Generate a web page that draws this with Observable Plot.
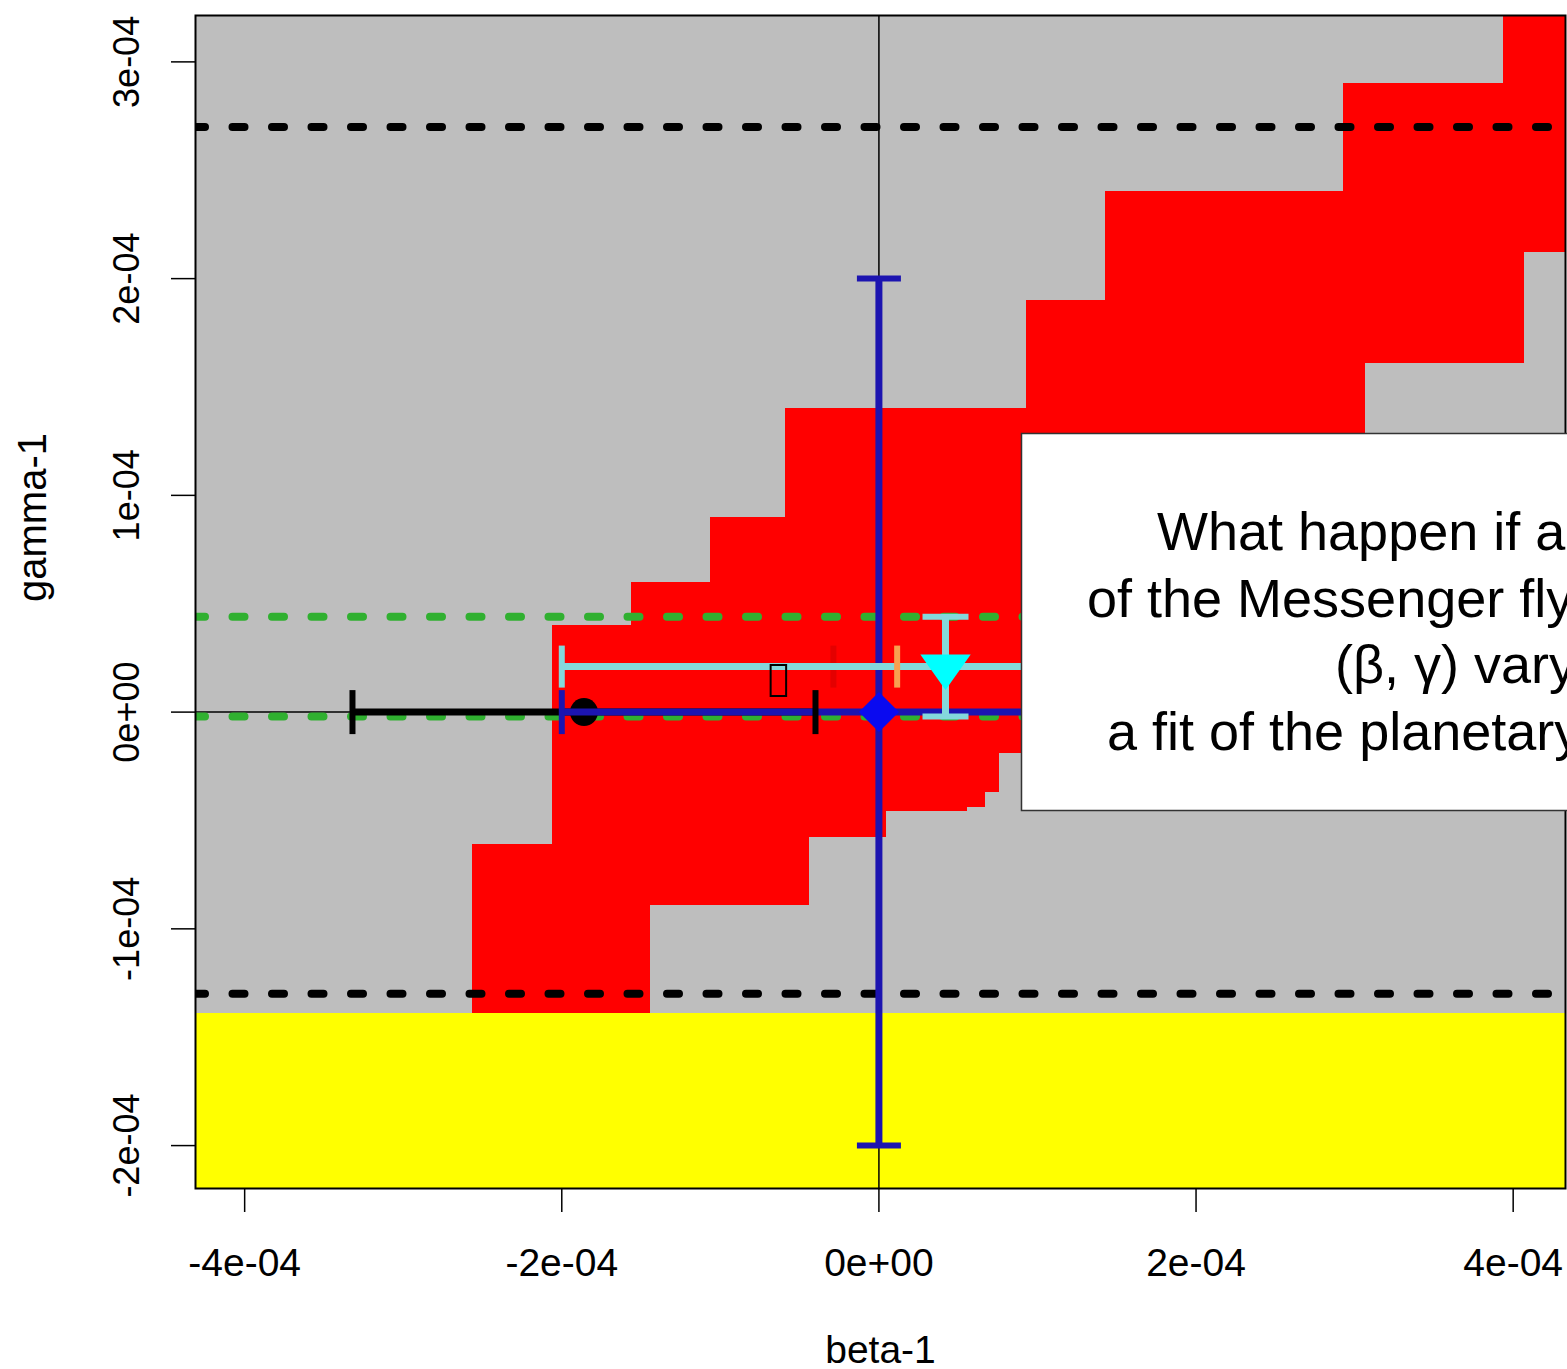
<!DOCTYPE html>
<html>
<head>
<meta charset="utf-8">
<script src="https://cdn.jsdelivr.net/npm/d3@7"></script>
<script src="https://cdn.jsdelivr.net/npm/@observablehq/plot@0.6"></script>
<style>
  html, body { margin: 0; padding: 0; background: #fff; overflow: hidden; }
  #wrap { position: relative; width: 1567px; height: 1369px; overflow: hidden; }
  #note { position: absolute; left: 0; top: 0; pointer-events: none; }
</style>
</head>
<body>
<div id="wrap"></div>
<script>
// ---- axes -------------------------------------------------------------
const xTickValues = [-4e-4, -2e-4, 0, 2e-4, 4e-4];
const xTickLabels = ["-4e-04", "-2e-04", "0e+00", "2e-04", "4e-04"];
const yTickValues = [-2e-4, -1e-4, 0, 1e-4, 2e-4, 3e-4];
const yTickLabels = ["-2e-04", "-1e-04", "0e+00", "1e-04", "2e-04", "3e-04"];
const xDomain = [-4.31e-4, 4.33e-4];
const yDomain = [-2.198e-4, 3.214e-4];

// ---- allowed (red) region, one row per gamma band, units of 1e-4 -------
const bandGammaLo = [2.90, 2.40, 2.12, 1.90, 1.61, 1.40, 0.90, 0.60, 0.40, -0.19, -0.37, -0.44, -0.46, -0.58, -0.61, -0.89, -1.39];
const bandGammaHi = [3.40, 2.90, 2.40, 2.12, 1.90, 1.61, 1.40, 0.90, 0.60,  0.40, -0.19, -0.37, -0.44, -0.46, -0.58, -0.61, -0.89];
const bandBetaLo  = [3.94, 2.93, 1.43, 1.43, 0.93, 0.93, -0.59, -1.06, -1.56, -2.06, -2.06, -2.06, -2.06, -2.06, -2.06, -2.56, -2.56];
const bandBetaHi  = [4.50, 4.50, 4.50, 4.07, 4.07, 3.07, 3.07, 2.50, 2.00, 1.50, 0.76, 0.67, 0.56, 0.05, -0.44, -0.44, -1.44];

// excluded (yellow) zone: gamma-1 below this value
const yellowGammaLo = -2.3e-4;
const yellowGammaHi = -1.39e-4;

// reference lines
const axisLineGamma = [0];
const axisLineBeta = [0];
const blackLimitGamma = [2.7e-4, -1.3e-4];
const greenLimitGamma = [4.4e-5, -0.2e-5];

// ---- horizontal error bars (beta-1 intervals at fixed gamma-1) ---------
const hbarSeries  = ["black", "blue", "darkred", "orange", "cyan"];
const hbarGamma   = [0, 0, 2.1e-5, 2.1e-5, 2.1e-5];
const hbarBetaLo  = [-3.32e-4, -2.0e-4, -2.87e-5, 1.15e-5, -2.0e-4];
const hbarBetaHi  = [-0.40e-4, 2.0e-4, 1.2e-4, 1.6e-4, 2.84e-4];

// ---- vertical error bars (gamma-1 intervals at fixed beta-1) -----------
const vbarSeries   = ["blue", "cyan"];
const vbarBeta     = [0, 4.2e-5];
const vbarGammaLo  = [-2.0e-4, -0.2e-5];
const vbarGammaHi  = [2.0e-4, 4.4e-5];

// ---- central values ----------------------------------------------------
const pointSeries = ["black", "blue", "cyan", "glyph"];
const pointBeta   = [-1.86e-4, 0, 4.2e-5, -6.34e-5];
const pointGamma  = [0, 0, 2.1e-5, 1.46e-5];

// ---- colours -------------------------------------------------------------
const lineColor = {black: "#000000", blue: "#1c14b0", darkred: "#e40000", orange: "#f8a050", cyan: "#84d8dc"};

// ---- build tables ------------------------------------------------------
const bands = bandGammaLo.map((g, i) => ({
  y1: g * 1e-4, y2: bandGammaHi[i] * 1e-4,
  x1: bandBetaLo[i] * 1e-4, x2: bandBetaHi[i] * 1e-4
}));
const hbars = hbarSeries.map((s, i) => ({s, y: hbarGamma[i], x1: hbarBetaLo[i], x2: hbarBetaHi[i]}));
const vbars = vbarSeries.map((s, i) => ({s, x: vbarBeta[i], y1: vbarGammaLo[i], y2: vbarGammaHi[i]}));
const hcaps = hbars.flatMap(d => [{s: d.s, x: d.x1, y: d.y}, {s: d.s, x: d.x2, y: d.y}]);
const vcaps = vbars.flatMap(d => [{s: d.s, x: d.x, y: d.y1}, {s: d.s, x: d.x, y: d.y2}]);
const points = pointSeries.map((s, i) => ({s, x: pointBeta[i], y: pointGamma[i]}));
const pt = s => points.filter(d => d.s === s);

// ---- custom point symbols -------------------------------------------------
const rOf = size => Math.sqrt(size / Math.PI);
const vTick = {draw(c, size) { const r = rOf(size); c.moveTo(0, -r); c.lineTo(0, r); }};
const hTick = {draw(c, size) { const r = rOf(size); c.moveTo(-r, 0); c.lineTo(r, 0); }};
const diamond = {draw(c, size) { const r = rOf(size); c.moveTo(0, -r); c.lineTo(r, 0); c.lineTo(0, r); c.lineTo(-r, 0); c.closePath(); }};
const triangleDown = {draw(c, size) { const r = rOf(size); c.moveTo(-2.1 * r, -r); c.lineTo(2.1 * r, -r); c.lineTo(0, 1.95 * r); c.closePath(); }};
const tofu = {draw(c, size) { const r = rOf(size); c.rect(-r / 2, -r, r, 2 * r); }};

const hb = s => hbars.filter(d => d.s === s);
const vb = s => vbars.filter(d => d.s === s);
const hc = s => hcaps.filter(d => d.s === s);
const vc = s => vcaps.filter(d => d.s === s);

const barStyle = s => ({stroke: lineColor[s], strokeWidth: 7, strokeLinecap: "butt"});
const hBar = (s, w = 7) => Plot.link(hb(s), {x1: "x1", x2: "x2", y1: "y", y2: "y", ...barStyle(s), strokeWidth: w});
const vBar = s => Plot.link(vb(s), {x1: "x", x2: "x", y1: "y1", y2: "y2", ...barStyle(s)});
const hCap = (s, r) => Plot.dot(hc(s), {x: "x", y: "y", symbol: vTick, r, fill: "none", stroke: lineColor[s], strokeWidth: 6});
const vCap = (s, r) => Plot.dot(vc(s), {x: "x", y: "y", symbol: hTick, r, fill: "none", stroke: lineColor[s], strokeWidth: 6});

const chart = Plot.plot({
  width: 1567,
  height: 1369,
  marginLeft: 195,
  marginRight: 2,
  marginTop: 15,
  marginBottom: 181,
  style: {fontFamily: "'Liberation Sans', Arial, Helvetica, sans-serif", background: "white", color: "black"},
  x: {domain: xDomain},
  y: {domain: yDomain},
  marks: [
    Plot.frame({fill: "#bebebe"}),
    Plot.rect(bands, {x1: "x1", x2: "x2", y1: "y1", y2: "y2", fill: "#ff0000", clip: true, shapeRendering: "crispEdges"}),
    Plot.rect([{y1: yellowGammaLo, y2: yellowGammaHi}], {y1: "y1", y2: "y2", fill: "#ffff00", clip: true, shapeRendering: "crispEdges"}),
    Plot.ruleY(axisLineGamma, {stroke: "black", strokeWidth: 1.5}),
    Plot.ruleX(axisLineBeta, {stroke: "black", strokeWidth: 1.5}),
    Plot.ruleY(blackLimitGamma, {stroke: "black", strokeWidth: 8, strokeDasharray: "12,27.5", strokeDashoffset: 2, strokeLinecap: "round", clip: true}),
    Plot.ruleY(greenLimitGamma, {stroke: "#30b030", strokeWidth: 8, strokeDasharray: "12,27.5", strokeDashoffset: 2, strokeLinecap: "round", clip: true}),
    // black interval and point
    hBar("black"),
    Plot.dot(pt("black"), {x: "x", y: "y", r: 14, fill: "black"}),
    // blue cross
    hBar("blue"),
    vBar("blue"),
    hCap("blue", 22),
    vCap("blue", 22),
    hCap("black", 22),
    // intervals at gamma-1 = 2.1e-5 (the lines lie under the cyan one)
    hBar("darkred", 5),
    hBar("orange", 5),
    hCap("darkred", 21),
    hBar("cyan"),
    vBar("cyan"),
    hCap("cyan", 21),
    vCap("cyan", 23),
    hCap("orange", 21),
    Plot.dot(pt("blue"), {x: "x", y: "y", r: 20, symbol: diamond, fill: "#0a0af0", stroke: "none"}),
    Plot.dot(pt("cyan"), {x: "x", y: "y", r: 12, symbol: triangleDown, fill: "#00ffff", stroke: "none"}),
    Plot.dot(pt("glyph"), {x: "x", y: "y", r: 15.5, symbol: tofu, fill: "none", stroke: "black", strokeWidth: 2}),
    Plot.frame({stroke: "black", strokeWidth: 2}),
    Plot.axisX(xTickValues, {
      tickSize: 24, tickPadding: 36, fontSize: 39, strokeWidth: 1.5, label: null,
      tickFormat: d => xTickLabels[xTickValues.indexOf(d)]
    }),
    Plot.axisY(yTickValues, {
      tickSize: 24, tickPadding: 33, tickRotate: -90, fontSize: 36, strokeWidth: 1.5, label: null,
      tickFormat: d => yTickLabels[yTickValues.indexOf(d)]
    }),
    Plot.text(["beta-1"], {frameAnchor: "bottom", dy: 174, lineAnchor: "bottom", fontSize: 39, fill: "black"}),
    Plot.text(["gamma-1"], {frameAnchor: "left", dx: -150, rotate: -90, lineAnchor: "bottom", fontSize: 40, fill: "black"})
  ]
});

const wrap = document.getElementById("wrap");
wrap.appendChild(chart);

// ---- annotation box on the right ---------------------------------------
const noteLines = ["What happen if a", "of the Messenger fly", "(β, γ) vary", "a fit of the planetary"];
const noteX = [1157, 1087, 1335, 1107];
const noteBaseline = [550, 617, 683, 750];

const note = d3.create("svg")
  .attr("id", "note")
  .attr("width", 1567)
  .attr("height", 1369);
note.append("rect")
  .attr("x", 1021.5).attr("y", 433.5)
  .attr("width", 700).attr("height", 377)
  .attr("fill", "white").attr("stroke", "#333").attr("stroke-width", 1.5);
note.selectAll("text")
  .data(noteLines)
  .join("text")
  .attr("x", (d, i) => noteX[i])
  .attr("y", (d, i) => noteBaseline[i])
  .attr("font-family", "'Liberation Sans', Arial, Helvetica, sans-serif")
  .attr("font-size", 54)
  .attr("fill", "black")
  .text(d => d);
wrap.appendChild(note.node());
</script>
</body>
</html>
